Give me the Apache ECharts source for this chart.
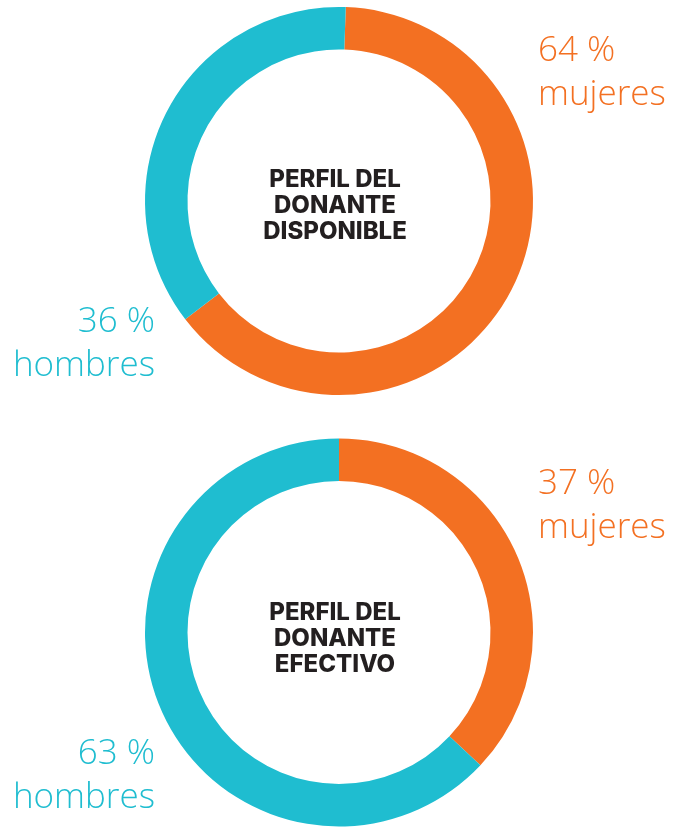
<!DOCTYPE html>
<html>
<head>
<meta charset="utf-8">
<script src="https://cdn.jsdelivr.net/npm/echarts@6/dist/echarts.min.js"></script>
<style>
html,body{margin:0;padding:0;background:#fff;}
#chart{width:679px;height:827px;}
</style>
</head>
<body>
<div id="chart"></div>
<script>
var categories = ['mujeres', 'hombres'];
var titles = ['PERFIL DEL\nDONANTE\nDISPONIBLE', 'PERFIL DEL\nDONANTE\nEFECTIVO'];
var disponibleValues = [64, 36];
var efectivoValues = [37, 63];
var colors = ['#F37022', '#1FBDD0'];

var chart = echarts.init(document.getElementById('chart'));

function pieSeries(values, center, startAngle) {
  return {
    type: 'pie',
    center: center,
    radius: [151.5, 194],
    startAngle: startAngle,
    clockwise: true,
    silent: true,
    label: { show: false },
    labelLine: { show: false },
    itemStyle: { borderWidth: 0 },
    data: categories.map(function (c, i) {
      return { name: c, value: values[i], itemStyle: { color: colors[i] } };
    })
  };
}

function sideLabel(value, cat, x, y, align, color) {
  return {
    type: 'text',
    x: x, y: y,
    style: {
      text: value + ' %\n' + cat,
      fill: color,
      font: '300 35px "Open Sans"',
      lineHeight: 44,
      align: align,
      verticalAlign: 'middle'
    }
  };
}

function centerText(t, x, y) {
  return {
    type: 'text',
    x: x, y: y,
    style: {
      text: t,
      fill: '#231F20',
      font: '800 24px Inter',
      lineHeight: 26,
      align: 'center',
      verticalAlign: 'middle'
    }
  };
}

chart.setOption({
  animation: false,
  series: [
    pieSeries(disponibleValues, [339, 201], 88),
    pieSeries(efectivoValues, [339, 632.5], 90)
  ],
  graphic: [
    centerText(titles[0], 335, 206),
    centerText(titles[1], 335, 639),
    sideLabel(disponibleValues[0], categories[0], 538, 73, 'left', colors[0]),
    sideLabel(disponibleValues[1], categories[1], 155, 344, 'right', colors[1]),
    sideLabel(efectivoValues[0], categories[0], 538, 506, 'left', colors[0]),
    sideLabel(efectivoValues[1], categories[1], 155, 776, 'right', colors[1])
  ]
});
</script>
</body>
</html>
